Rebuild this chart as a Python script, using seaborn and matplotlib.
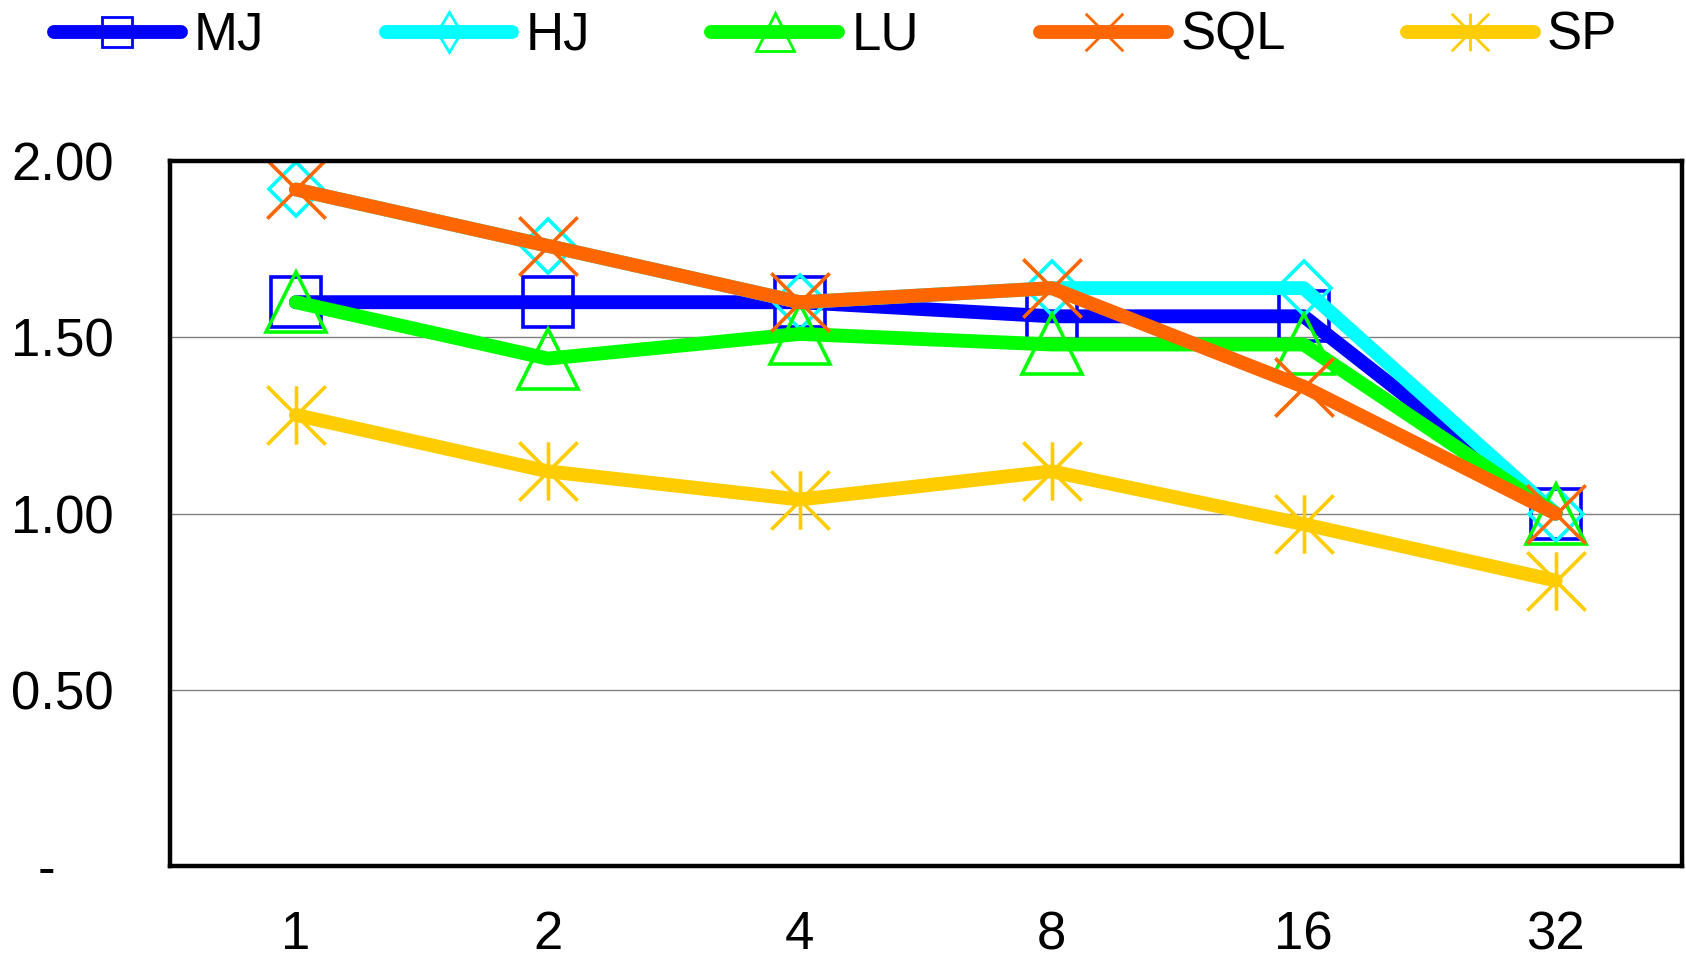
import numpy as np
import pandas as pd
import matplotlib
matplotlib.use("Agg")
import matplotlib.pyplot as plt
from matplotlib.lines import Line2D
from matplotlib.path import Path
from matplotlib import font_manager
import seaborn as sns

# Data: speedup per thread count for each method
threads = ["1", "2", "4", "8", "16", "32"]
mj = [1.60, 1.60, 1.60, 1.56, 1.56, 1.00]
hj = [1.92, 1.76, 1.60, 1.64, 1.64, 1.00]
lu = [1.60, 1.44, 1.51, 1.48, 1.48, 1.00]
sql = [1.92, 1.76, 1.60, 1.64, 1.36, 1.00]
sp = [1.28, 1.12, 1.04, 1.12, 0.97, 0.81]
series_names = ["MJ", "HJ", "LU", "SQL", "SP"]
y_ticks = [0.0, 0.5, 1.0, 1.5, 2.0]
y_tick_labels = ["-    ", "0.50", "1.00", "1.50", "2.00"]

# Custom marker shapes: a cross and an asterisk spanning the full marker box
CROSS = Path([(-1, -1), (1, 1), (-1, 1), (1, -1)],
             [Path.MOVETO, Path.LINETO, Path.MOVETO, Path.LINETO])
ASTERISK = Path([(-1, -1), (1, 1), (-1, 1), (1, -1), (0, -1), (0, 1)],
                [Path.MOVETO, Path.LINETO, Path.MOVETO, Path.LINETO,
                 Path.MOVETO, Path.LINETO])

colors = ["#0000FF", "#00FFFF", "#00FF00", "#FF6600", "#FFCC00"]
markers = ["s", "D", "^", CROSS, ASTERISK]
marker_sizes = [36, 27, 43, 42, 42]
legend_marker_sizes = [21, 20, 27, 27, 27]
legend_markers = ["s", "d", "^", CROSS, ASTERISK]

sns.set_style("white")
available = {f.name for f in font_manager.fontManager.ttflist}
main_font = "Liberation Sans Narrow" if "Liberation Sans Narrow" in available else "Liberation Sans"
plt.rcParams["font.family"] = [main_font, "DejaVu Sans"]
plt.rcParams["text.color"] = "black"

FS = 38
fig = plt.figure(figsize=(16.86, 9.6), dpi=100)
ax = fig.add_axes([0.1008, 0.098, 0.8966, 0.734])

x = np.arange(len(threads))
for name, vals, color, marker, ms in zip(series_names, [mj, hj, lu, sql, sp],
                                         colors, markers, marker_sizes):
    df = pd.DataFrame({"threads": x, "speedup": vals})
    sns.lineplot(data=df, x="threads", y="speedup", ax=ax, color=color,
                 marker=marker, markersize=ms, mfc="none", mec=color, mew=2.6,
                 linewidth=10, solid_capstyle="round", solid_joinstyle="round",
                 errorbar=None, legend=False, clip_on=False)

ax.set_xlabel("")
ax.set_ylabel("")
ax.set_xlim(-0.5, len(threads) - 0.5)
ax.set_ylim(0, 2)

ax.set_xticks(x)
ax.set_xticklabels(threads)
ax.set_xticks(np.arange(-0.5, len(threads), 1), minor=True)
ax.tick_params(axis="x", which="major", length=0, pad=32, labelsize=FS,
               labelcolor="black")
ax.tick_params(axis="x", which="minor", length=9, width=1, color="#808080",
               direction="out")

ax.set_yticks(y_ticks)
ax.set_yticklabels(y_tick_labels)
ax.tick_params(axis="y", which="major", length=6.5, width=1, color="#808080",
               direction="out", pad=34, labelsize=FS, labelcolor="black")

ax.yaxis.grid(True, color="#808080", lw=1)
ax.xaxis.grid(False)
ax.set_axisbelow(True)
for sp_ in ax.spines.values():
    sp_.set_visible(True)
    sp_.set_color("black")
    sp_.set_linewidth(3.2)

handles = [Line2D([], [], color=c, lw=10, marker=m, markersize=s, mfc="none",
                  mec=c, mew=2, solid_capstyle="round")
           for c, m, s in zip(colors, legend_markers, legend_marker_sizes)]
fig.legend(handles, series_names, loc="center left",
           bbox_to_anchor=(54 / 1686, 1 - 36 / 960), ncol=5, frameon=False,
           fontsize=FS, handlelength=2.4, handletextpad=0.25,
           columnspacing=2.3, borderpad=0, borderaxespad=0, numpoints=1,
           labelcolor="black")

fig.savefig("out.png", dpi=100)
